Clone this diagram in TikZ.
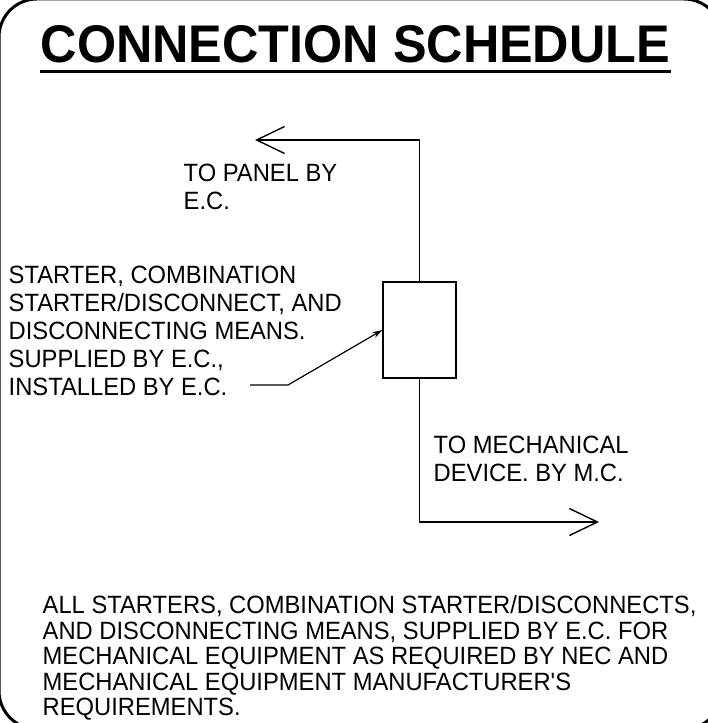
\documentclass[tikz,border=0pt]{standalone}
\usepackage{fontspec}
\setmainfont{Liberation Sans}[FakeStretch=0.95]
\newfontfamily\titlefont{Liberation Sans Bold}[FakeStretch=0.95]
\usepackage{tikz}
\usetikzlibrary{arrows.meta}

\begin{document}
\begin{tikzpicture}[x=1bp, y=-1bp, line width=1.4bp,
    note/.style={anchor=north west, inner sep=0pt, align=left,
      font=\fontsize{25bp}{28bp}\selectfont},
    wire/.style={-{Straight Barb[length=28bp, width=27bp, line width=1.4bp]}},
    leader/.style={line width=1.2bp, -{Stealth[length=10bp, width=6bp]}}]
  \useasboundingbox (0,0) rectangle (708,723);
  \clip (0,0) rectangle (708,723);
  \draw[line width=3bp, rounded corners=38bp] (-1,-1) rectangle (722,729);
  \node (title) [anchor=north west, inner sep=0pt,
    font=\titlefont\fontsize{53bp}{60bp}\selectfont] at (40,25) {CONNECTION SCHEDULE};
  \draw[line width=3bp] ([yshift=-7.5bp]title.south west) -- ([yshift=-7.5bp]title.south east);
  \node (starter) [draw, line width=1.2bp, minimum width=73bp, minimum height=96bp,
    inner sep=0pt] at (419.5,330) {};
  \coordinate (panel) at (255,140);
  \coordinate (mech) at (599,522);
  \draw[wire] (starter.north) |- (panel);
  \draw[wire] (starter.south) |- (mech);
  \node (panelnote) [note] at (183,163) {TO PANEL BY\\E.C.};
  \node (startnote) [note] at (8,265) {STARTER, COMBINATION\\STARTER/DISCONNECT, AND\\DISCONNECTING MEANS.\\SUPPLIED BY E.C.,\\INSTALLED BY E.C.};
  \coordinate (ldr) at (250,385);
  \draw[leader] (ldr) -- ++(38,0) -- (starter.west);
  \node (mechnote) [note] at (433,435) {TO MECHANICAL\\DEVICE. BY M.C.};
  \node (allnote) [note, font=\fontsize{25bp}{25.5bp}\selectfont] at (42,595) {ALL STARTERS, COMBINATION STARTER/DISCONNECTS,\\AND DISCONNECTING MEANS, SUPPLIED BY E.C. FOR\\MECHANICAL EQUIPMENT AS REQUIRED BY NEC AND\\MECHANICAL EQUIPMENT MANUFACTURER\textquotesingle S\\REQUIREMENTS.};
\end{tikzpicture}
\end{document}
